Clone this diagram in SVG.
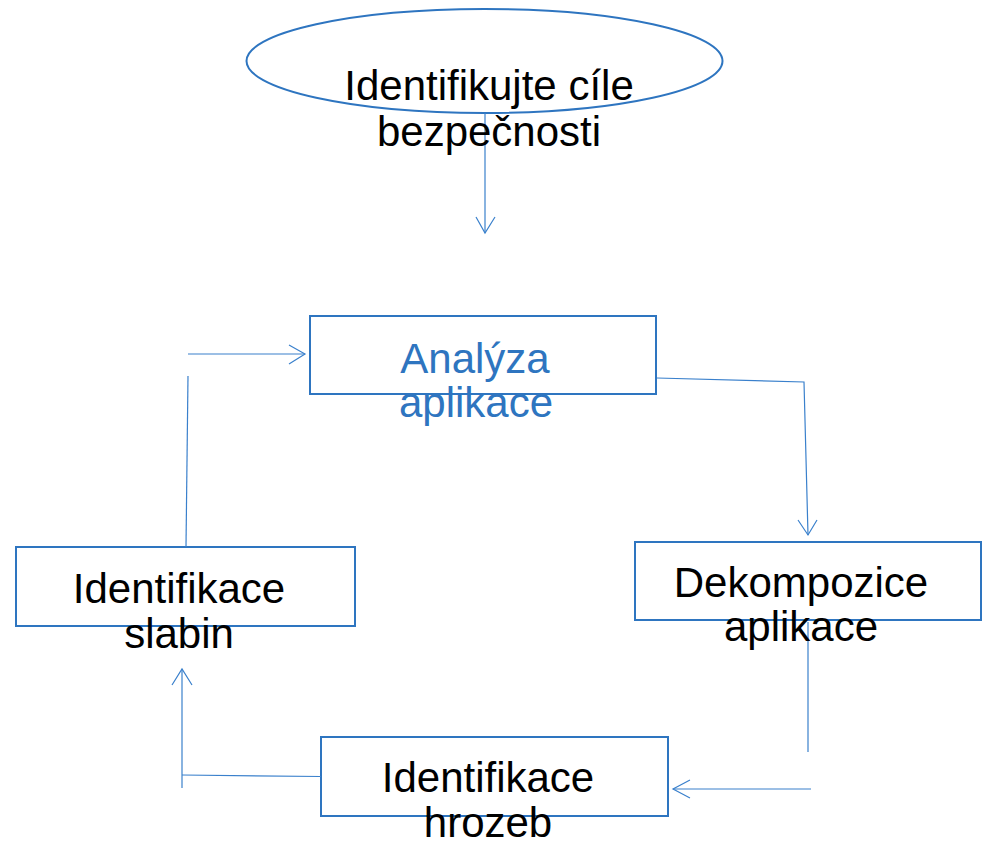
<svg xmlns="http://www.w3.org/2000/svg" width="986" height="842" viewBox="0 0 986 842">
<style>
.box{fill:#fff;stroke:#2E75C0;stroke-width:2}
.lbl{font-family:"Liberation Sans",Arial,sans-serif;font-size:42px;fill:#000;text-anchor:middle}
.blue{fill:#2E75C0}
.con{fill:none;stroke:#3A80CC;stroke-width:1.2}
.head{fill:none;stroke:#3A80CC;stroke-width:1.2}
</style>
<rect width="986" height="842" fill="#fff"/>
<g id="goal">
<ellipse cx="484.5" cy="61" rx="238" ry="52" fill="#fff" stroke="#2E75C0" stroke-width="2"/>
</g>
<g id="analyza"><rect class="box" x="310" y="316" width="346" height="78"/></g>
<g id="dekompozice"><rect class="box" x="635" y="542" width="346" height="78"/></g>
<g id="hrozby"><rect class="box" x="321" y="737" width="347" height="79"/></g>
<g id="slabiny"><rect class="box" x="16" y="547" width="339" height="79"/></g>
<g id="connectors">
<path class="con" d="M485 113 L485 233"/>
<path class="head" d="M476 217 L485 233 L495 217"/>
<path class="con" d="M657 378 L804 382 L808 535"/>
<path class="head" d="M798 520 L808 535 L817 520"/>
<path class="con" d="M808 622 L808 752"/>
<path class="con" d="M811 789 L673 789"/>
<path class="head" d="M690 780 L673 789 L690 798"/>
<path class="con" d="M321 776.5 L182 775"/>
<path class="con" d="M182 788 L182 669"/>
<path class="head" d="M172 685 L182 669 L192 685"/>
<path class="con" d="M186 547 L188 376"/>
<path class="con" d="M188 354 L305 354"/>
<path class="head" d="M289 345 L305 354 L289 364"/>
</g>
<g id="texts">
<text class="lbl" x="489" y="100">Identifikujte cíle</text>
<text class="lbl" x="489" y="146">bezpečnosti</text>
<text class="lbl blue" x="475" y="373">Analýza</text>
<text class="lbl blue" x="476" y="417">aplikace</text>
<text class="lbl" x="801" y="597">Dekompozice</text>
<text class="lbl" x="801" y="641">aplikace</text>
<text class="lbl" x="488" y="792">Identifikace</text>
<text class="lbl" x="488" y="837">hrozeb</text>
<text class="lbl" x="179" y="603">Identifikace</text>
<text class="lbl" x="179" y="648">slabin</text>
</g>
</svg>
